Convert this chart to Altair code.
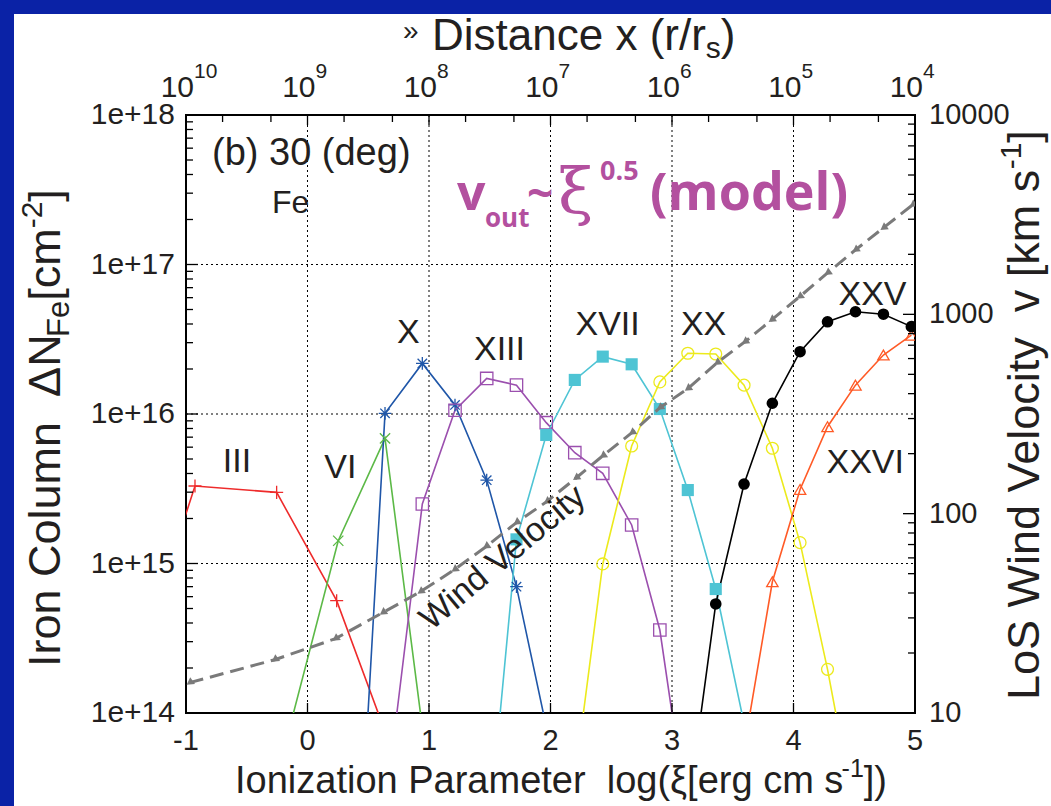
import altair as alt
import pandas as pd

# ---------------- iron column per ion: log(xi) grid and column density [cm^-2] ----------------
III_xi = [-1.20, -0.926, -0.254, 0.240, 0.700]
III_N = [6.8e14, 3.30e15, 2.99e15, 5.64e14, 5.5e13]

VI_xi = [-0.25, 0.253, 0.638, 0.945]
VI_N = [3.8e13, 1.42e15, 6.87e15, 8.0e13]

X_xi = [0.240, 0.638, 0.945, 1.214, 1.475, 1.720, 1.965]
X_N = [2.0e10, 1.01e16, 2.18e16, 1.15e16, 3.61e15, 7.0e14, 8.1e13]

XIII_xi = [0.640, 0.945, 1.214, 1.475, 1.720, 1.965, 2.200, 2.430, 2.668, 2.900, 3.130]
XIII_N = [2.3e13, 2.50e15, 1.06e16, 1.73e16, 1.56e16, 8.75e15, 5.51e15, 4.01e15, 1.81e15, 3.59e14, 1.9e13]

XVII_xi = [1.475, 1.720, 1.965, 2.200, 2.430, 2.668, 2.900, 3.130, 3.360, 3.593]
XVII_N = [1.1e13, 1.45e15, 7.24e15, 1.69e16, 2.42e16, 2.15e16, 1.08e16, 3.10e15, 6.75e14, 8.5e13]

XX_xi = [2.200, 2.430, 2.668, 2.900, 3.130, 3.360, 3.593, 3.826, 4.054, 4.280, 4.510]
XX_N = [3.6e13, 9.93e14, 6.11e15, 1.64e16, 2.55e16, 2.52e16, 1.56e16, 5.90e15, 1.38e15, 1.96e14, 2.0e13]

XXV_xi = [3.130, 3.360, 3.593, 3.826, 4.054, 4.280, 4.510, 4.740, 4.970]
XXV_N = [2.2e13, 5.36e14, 3.40e15, 1.18e16, 2.61e16, 4.14e16, 4.83e16, 4.65e16, 3.84e16]

XXVI_xi = [3.593, 3.826, 4.054, 4.280, 4.510, 4.740, 4.970]
XXVI_N = [5.8e13, 7.55e14, 3.13e15, 8.22e15, 1.56e16, 2.48e16, 3.37e16]

# ---------------- line-of-sight wind velocity [km/s] ----------------
wind_xi = [-0.97, -0.27, 0.23, 0.62, 0.93, 1.21, 1.47, 1.72, 1.97, 2.21, 2.43,
           2.67, 2.90, 3.13, 3.37, 3.60, 3.82, 4.05, 4.28, 4.51, 4.74, 4.98]
wind_v = [14.2, 18.5, 23.6, 31.9, 40.6, 52.4, 68.4, 90.2, 115, 151, 195,
          255, 340, 424, 571, 728, 938, 1225, 1614, 2105, 2717, 3540]

# ---------------- ion labels ----------------
ion_names = ["III", "VI", "X", "XIII", "XVII", "XX", "XXV", "XXVI"]
label_xi = [-0.58, 0.27, 0.83, 1.58, 2.47, 3.26, 4.65, 4.59]
label_N = [4.07e15, 3.72e15, 2.99e16, 2.30e16, 3.37e16, 3.37e16, 5.36e16, 4.03e15]

# ---------------- axis tick values and labels ----------------
x_ticks = [-1, 0, 1, 2, 3, 4, 5]
x_labels = ["-1", "0", "1", "2", "3", "4", "5"]
left_ticks = [1e14, 1e15, 1e16, 1e17, 1e18]
left_labels = ["1e+14", "1e+15", "1e+16", "1e+17", "1e+18"]
right_ticks = [10, 100, 1000, 10000]
right_labels = ["10", "100", "1000", "10000"]
top_exponents = ["10", "9", "8", "7", "6", "5", "4"]

# ---------------- styling ----------------
INK = "#231f20"
FONT = "Liberation Sans"
PURPLE = "#b3509f"
GRAY = "#7a7a7a"
BLUE_FRAME = "#0a22a6"
NB = "\u00a0"  # keeps double spaces from collapsing in SVG text

ion_colors = ["#ee2b2b", "#5cb947", "#1f56a8", "#9b4fae", "#4ec4d4", "#ecea1c", "#000000", "#ff5a26"]
PLUS = "M-1,0L1,0M0,-1L0,1"
CROSS = "M-0.8,-0.8L0.8,0.8M-0.8,0.8L0.8,-0.8"
STAR = "M-1,0L1,0M0,-1L0,1M-0.75,-0.75L0.75,0.75M-0.75,0.75L0.75,-0.75"
ion_shapes = [PLUS, CROSS, STAR, "square", "square", "circle", "circle", "triangle-up"]
ion_sizes = [170, 130, 150, 120, 120, 110, 110, 110]
filled_ions = ["XVII", "XXV"]

W, H = 729, 598  # plot area

series = {
    "III": (III_xi, III_N), "VI": (VI_xi, VI_N), "X": (X_xi, X_N),
    "XIII": (XIII_xi, XIII_N), "XVII": (XVII_xi, XVII_N), "XX": (XX_xi, XX_N),
    "XXV": (XXV_xi, XXV_N), "XXVI": (XXVI_xi, XXVI_N),
}
rows = []
for name, (xs, ns) in series.items():
    for x, n in zip(xs, ns):
        rows.append({"ion": name, "xi": x, "N": n})
ions = pd.DataFrame(rows)
wind = pd.DataFrame({"xi": wind_xi, "v": wind_v})
labels = pd.DataFrame({"text": ion_names, "xi": label_xi, "N": label_N})
one = pd.DataFrame({"a": [0]})

xscale = alt.Scale(domain=[-1, 5], nice=False, zero=False)
yscale = alt.Scale(type="log", domain=[1e14, 1e18], nice=False)
vscale = alt.Scale(type="log", domain=[10, 10000], nice=False)

X_ = lambda f: alt.X(f, scale=xscale, axis=None)
Y_ = lambda f: alt.Y(f, scale=yscale, axis=None)
V_ = lambda f: alt.Y(f, scale=vscale, axis=None)

color = alt.Color("ion:N", scale=alt.Scale(domain=ion_names, range=ion_colors), legend=None)
shape = alt.Shape("ion:N", scale=alt.Scale(domain=ion_names, range=ion_shapes), legend=None)
size = alt.Size("ion:N", scale=alt.Scale(domain=ion_names, range=ion_sizes), legend=None)

# ---------------- dotted grid ----------------
grid_v = alt.Chart(pd.DataFrame({"t": x_ticks[1:-1]})).mark_rule(
    color="black", strokeWidth=1, strokeDash=[2, 3]).encode(
    x=X_("t:Q"), y=alt.value(0), y2=alt.value(H))
grid_h = alt.Chart(pd.DataFrame({"t": left_ticks[1:-1]})).mark_rule(
    color="black", strokeWidth=1, strokeDash=[2, 3]).encode(
    y=Y_("t:Q"), x=alt.value(0), x2=alt.value(W))

# ---------------- ion column curves ----------------
ion_lines = alt.Chart(ions).mark_line(clip=True, strokeWidth=1.6).encode(
    x=X_("xi:Q"), y=Y_("N:Q"), color=color, detail="ion:N", order="xi:Q",
)
open_pts = alt.Chart(ions).transform_filter(
    alt.FieldOneOfPredicate(field="ion", oneOf=[i for i in ion_names if i not in filled_ions])
).mark_point(clip=True, filled=False, strokeWidth=1.3, opacity=1).encode(
    x=X_("xi:Q"), y=Y_("N:Q"), color=color, shape=shape, size=size,
)
filled_pts = alt.Chart(ions).transform_filter(
    alt.FieldOneOfPredicate(field="ion", oneOf=filled_ions)
).mark_point(clip=True, filled=True, opacity=1).encode(
    x=X_("xi:Q"), y=Y_("N:Q"), color=color, shape=shape, size=size,
)
ion_text = alt.Chart(labels).mark_text(font=FONT, fontSize=34, color=INK, align="center",
                                        baseline="alphabetic").encode(
    x=X_("xi:Q"), y=Y_("N:Q"), text="text:N",
)

# ---------------- axis labels drawn through the scales ----------------
bottom_lab = alt.Chart(pd.DataFrame({"t": x_ticks, "s": x_labels})).mark_text(
    font=FONT, fontSize=29, color=INK, align="center", baseline="top").encode(
    x=X_("t:Q"), y=alt.value(H + 14), text="s:N")
left_lab = alt.Chart(pd.DataFrame({"t": left_ticks, "s": left_labels})).mark_text(
    font=FONT, fontSize=30, color=INK, align="right", baseline="middle").encode(
    y=Y_("t:Q"), x=alt.value(-11), text="s:N")
right_lab = alt.Chart(pd.DataFrame({"t": right_ticks, "s": right_labels})).mark_text(
    font=FONT, fontSize=29, color=INK, align="left", baseline="middle").encode(
    y=V_("t:Q"), x=alt.value(W + 14), text="s:N")
top_df = pd.DataFrame({"t": x_ticks, "base": ["10"] * 7, "e": top_exponents})
top_base = alt.Chart(top_df).mark_text(font=FONT, fontSize=30, color=INK, align="right",
                                       baseline="alphabetic", dx=8).encode(
    x=X_("t:Q"), y=alt.value(-18), text="base:N")
top_exp = alt.Chart(top_df).mark_text(font=FONT, fontSize=21, color=INK, align="left",
                                      baseline="alphabetic", dx=8).encode(
    x=X_("t:Q"), y=alt.value(-37), text="e:N")

# inward-pointing tick marks on the frame
left_major = pd.DataFrame({"t": left_ticks})
left_minor = pd.DataFrame({"t": [m * 10.0 ** k for k in range(14, 18) for m in range(2, 10)]})
right_major = pd.DataFrame({"t": right_ticks})
right_minor = pd.DataFrame({"t": [m * 10.0 ** k for k in range(1, 4) for m in range(2, 10)]})
bottom_major = pd.DataFrame({"t": x_ticks})
top_minor = pd.DataFrame({"t": [k + f for k in range(-1, 5) for f in (0.30103, 0.69897)]})


def hticks(df, enc, x0, x1):
    return alt.Chart(df).mark_rule(color="black", strokeWidth=1.3).encode(
        y=enc("t:Q"), x=alt.value(x0), x2=alt.value(x1))


def vticks(df, y0, y1):
    return alt.Chart(df).mark_rule(color="black", strokeWidth=1.3).encode(
        x=X_("t:Q"), y=alt.value(y0), y2=alt.value(y1))


left_group = alt.layer(
    grid_v, grid_h,
    ion_lines, open_pts, filled_pts, ion_text,
    hticks(left_major, Y_, 0, 12), hticks(left_minor, Y_, 0, 7),
    vticks(bottom_major, H, H - 10), vticks(bottom_major, 0, 10), vticks(top_minor, 0, 7),
    bottom_lab, left_lab, top_base, top_exp,
)

# ---------------- wind velocity (right axis) ----------------
wind_line = alt.Chart(wind).mark_line(clip=True, color=GRAY, strokeWidth=3, strokeDash=[14, 7]).encode(
    x=X_("xi:Q"), y=V_("v:Q"),
)
wind_pts = alt.Chart(wind).mark_point(clip=True, filled=True, shape="triangle-left", size=70,
                                      angle=325, color=GRAY, opacity=1).encode(
    x=X_("xi:Q"), y=V_("v:Q"),
)
right_group = alt.layer(
    wind_line, wind_pts,
    hticks(right_major, V_, W - 12, W), hticks(right_minor, V_, W - 7, W),
    right_lab,
)

# ---------------- free text ----------------
CHAR_W = {" ": 278, NB: 278, "(": 333, ")": 333, "-": 333, "/": 278, "[": 278, "]": 278, ".": 278,
          "0": 556, "1": 556, "2": 556, "3": 556, "5": 556,
          "C": 722, "D": 722, "F": 611, "I": 278, "L": 556, "N": 722, "P": 667, "S": 667,
          "V": 667, "W": 944, "X": 667, "a": 556, "c": 500, "d": 556, "e": 556, "g": 556,
          "i": 222, "k": 500, "l": 222, "m": 833, "n": 556, "o": 556, "r": 333, "s": 500,
          "t": 278, "u": 556, "v": 500, "x": 500, "y": 500, "z": 500, "Δ": 610, "ξ": 480, "»": 556}


def text_width(s, fs):
    return sum(CHAR_W.get(c, 556) for c in s) * fs / 1000.0


def piece(text, x, y, fs, font=FONT, weight="normal", color=INK, angle=0, align="left",
          baseline="alphabetic"):
    return alt.Chart(one).mark_text(text=text, font=font, fontSize=fs, fontWeight=weight, color=color,
                                    angle=angle, align=align, baseline=baseline).encode(
        x=alt.value(x), y=alt.value(y))


def run(parts, x0, y0, angle=0):
    """Lay out (text, size, rise, gap) parts one after another along the writing direction."""
    out, off = [], 0.0
    for text, fs, rise, gap in parts:
        off += gap
        if angle == 0:
            out.append(piece(text, x0 + off, y0 - rise, fs))
        else:
            out.append(piece(text, x0 - rise, y0 - off, fs, angle=270))
        off += text_width(text, fs)
    return out


texts = [piece("»", 217, -75, 28)]
texts += run([("Distance x (r/r", 44, 0, 0), ("s", 30, -8, 0), (")", 44, 0, 0)], 246, -65)
texts += run([("Ionization Parameter" + NB + " log(ξ[erg cm s", 38, 0, 0), ("-1", 25, 16, -3),
              ("])", 38, 0, 0)], 49, 678)
texts += run([("Iron Column" + NB + " ΔN", 45, 0, 0), ("Fe", 31, -9, 0), ("[cm", 45, 0, 0),
              ("-2", 30, 18, 0), ("]", 45, 0, 0)], -126, 552, angle=270)
texts += run([("LoS Wind Velocity" + NB + " v [km s", 45, 0, 0), ("-1", 30, 18, -2), ("]", 45, 0, 0)],
             853, 585, angle=270)
texts += [
    piece("(b) 30 (deg)", 26, 50, 38),
    piece("Fe", 86, 98, 32),
    piece("Wind Velocity", 317, 443, 34, angle=320, align="center", baseline="middle"),
    piece("v", 271, 95, 50, font="Open Sans", weight="bold", color=PURPLE),
    piece("out", 299, 112, 26, font="Open Sans", weight="bold", color=PURPLE),
    piece("~", 341, 95, 46, font="Open Sans", weight="bold", color=PURPLE),
    piece("ξ", 372, 98, 64, font="DejaVu Serif", color=PURPLE),
    piece("0.5", 414, 65, 27, font="Open Sans", weight="bold", color=PURPLE),
    piece("(model)", 464, 95, 52, font="Open Sans", weight="bold", color=PURPLE),
]

# blue slide frame along the top and left edges
bands = alt.layer(
    alt.Chart(one).mark_rect(color=BLUE_FRAME).encode(
        x=alt.value(-186), x2=alt.value(865), y=alt.value(-115), y2=alt.value(-101)),
    alt.Chart(one).mark_rect(color=BLUE_FRAME).encode(
        x=alt.value(-186), x2=alt.value(-172), y=alt.value(-115), y2=alt.value(691)),
)

chart = alt.layer(left_group, right_group, bands, *texts).resolve_scale(y="independent").properties(
    width=W, height=H,
    autosize=alt.AutoSizeParams(type="none"),
    padding={"left": 186, "top": 115, "right": 136, "bottom": 93},
    background="white",
).configure_view(stroke="black", strokeWidth=2)

chart.save("out.html", embed_options={"renderer": "svg", "actions": False})
